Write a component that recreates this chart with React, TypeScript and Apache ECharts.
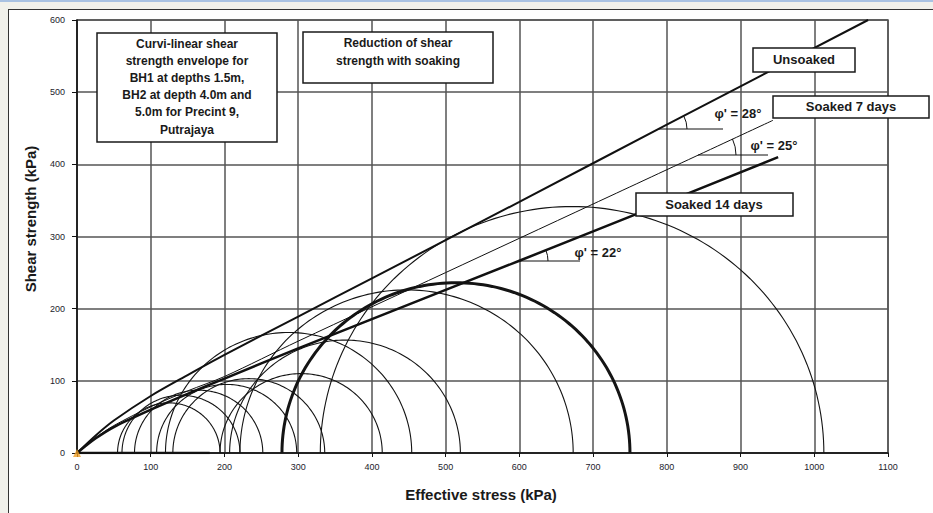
import React, { useEffect, useRef } from "react";
import * as echarts from "echarts";

// Mohr circles: [sigma3, sigma1] (kPa)
const thinCircles: number[][] = [
  [55, 194],
  [61, 221],
  [78, 252],
  [108, 298],
  [130, 336],
  [194, 414],
  [207, 520],
  [221, 673],
  [120, 454],
  [330, 1013],
];
const thickCircles: number[][] = [[278, 750]];

// Envelopes [effective stress, shear strength]
const unsoaked: number[][] = [
  [0, 0], [25, 24], [50, 45], [100, 79], [150, 108], [200, 136], [300, 189],
  [400, 242], [600, 348], [800, 455], [1073, 600],
];
const soaked7: number[][] = [
  [0, 0], [25, 21], [50, 38], [100, 64], [150, 86], [200, 106], [300, 155],
  [500, 250], [700, 345], [944, 461],
];
const soaked14: number[][] = [
  [0, 0], [25, 20], [50, 36], [100, 60], [150, 82], [200, 103], [300, 145],
  [500, 226], [700, 307], [951, 410],
];
const baseSegment: number[][] = [[0, 0], [180, 0]];

const xMin = 0, xMax = 1100, xStep = 100;
const yMin = 0, yMax = 600, yStep = 100;

const boxFont = 'bold 12px "Liberation Sans", Arial, sans-serif';
const tagFont = 'bold 13px "Liberation Sans", Arial, sans-serif';

function circleSeries(data: number[][], width: number) {
  return {
    type: "custom",
    coordinateSystem: "cartesian2d",
    silent: true,
    z: 3,
    data,
    renderItem: (params: any, api: any) => {
      const s3 = api.value(0);
      const s1 = api.value(1);
      const c = (s3 + s1) / 2;
      const r = (s1 - s3) / 2;
      const pts: number[][] = [];
      const N = 120;
      for (let i = 0; i <= N; i++) {
        const t = (Math.PI * i) / N;
        pts.push(api.coord([c + r * Math.cos(t), r * Math.sin(t)]));
      }
      return {
        type: "polyline",
        shape: { points: pts },
        style: { stroke: "#141414", lineWidth: width, fill: null },
      };
    },
  };
}

function lineSeries(data: number[][], width: number) {
  return {
    type: "line",
    data,
    smooth: 0.3,
    showSymbol: false,
    silent: true,
    z: 4,
    lineStyle: { color: "#111", width },
  };
}

function box(x: number, y: number, w: number, h: number) {
  return {
    type: "rect",
    z: 100,
    shape: { x, y, width: w, height: h },
    style: { fill: "#fff", stroke: "#1a1a1a", lineWidth: 1.5 },
  };
}

function label(x: number, y: number, text: string, font: string, lh?: number, va = "middle") {
  return {
    type: "text",
    z: 101,
    style: {
      x, y, text, font, fill: "#1a1a1a",
      textAlign: "center", textVerticalAlign: va,
      lineHeight: lh,
    },
  };
}

export default function App() {
  const ref = useRef<HTMLDivElement>(null);
  useEffect(() => {
    if (!ref.current) return;
    const chart = echarts.init(ref.current, null, { renderer: "svg" });
    const gridColor = "#555";
    chart.setOption({
      animation: false,
      grid: {
        left: 77, right: 45, top: 20, bottom: 60,
        show: true, borderColor: gridColor, borderWidth: 1.5,
      },
      xAxis: {
        type: "value", min: xMin, max: xMax, interval: xStep,
        axisLine: { show: true, onZero: false, lineStyle: { color: "#111", width: 1.5 } },
        axisTick: { show: true, length: 4, lineStyle: { color: "#111" } },
        axisLabel: { fontSize: 9, color: "#1c1c2c", margin: 9, fontFamily: "Liberation Sans, Arial", formatter: (v: number) => String(v) },
        splitLine: { show: true, lineStyle: { color: gridColor, width: 1.5 } },
      },
      yAxis: {
        type: "value", min: yMin, max: yMax, interval: yStep,
        axisLine: { show: true, onZero: false, lineStyle: { color: "#111", width: 1.5 } },
        axisTick: { show: true, length: 5, lineStyle: { color: "#111" } },
        axisLabel: { fontSize: 9, color: "#1c1c2c", margin: 12, fontFamily: "Liberation Sans, Arial", formatter: (v: number) => String(v) },
        splitLine: { show: true, lineStyle: { color: gridColor, width: 1.5 } },
      },
      series: [
        circleSeries(thinCircles, 1.1),
        circleSeries(thickCircles, 3),
        lineSeries(unsoaked, 2),
        lineSeries(soaked7, 1),
        lineSeries(soaked14, 2.5),
        lineSeries(baseSegment, 2.5),
        {
          type: "scatter",
          data: [[0, 0]],
          symbol: "triangle",
          symbolSize: 8,
          z: 6,
          itemStyle: { color: "#f0a028" },
        },
      ],
      graphic: [
        // angle marks
        { type: "line", z: 50, shape: { x1: 659, y1: 129, x2: 723, y2: 129 }, style: { stroke: "#111", lineWidth: 1 } },
        { type: "arc", z: 50, shape: { cx: 659, cy: 129, r: 28, startAngle: -0.489, endAngle: 0, clockwise: true }, style: { stroke: "#111", lineWidth: 1, fill: null } },
        { type: "line", z: 50, shape: { x1: 698, y1: 155, x2: 768, y2: 155 }, style: { stroke: "#111", lineWidth: 1 } },
        { type: "arc", z: 50, shape: { cx: 698, cy: 155, r: 38, startAngle: -0.436, endAngle: 0, clockwise: true }, style: { stroke: "#111", lineWidth: 1, fill: null } },
        { type: "line", z: 50, shape: { x1: 519, y1: 261, x2: 580, y2: 261 }, style: { stroke: "#111", lineWidth: 1 } },
        { type: "arc", z: 50, shape: { cx: 519, cy: 261, r: 29, startAngle: -0.384, endAngle: 0, clockwise: true }, style: { stroke: "#111", lineWidth: 1, fill: null } },
        label(738, 113, "φ' = 28°", tagFont),
        label(774, 145, "φ' = 25°", tagFont),
        label(598, 252, "φ' = 22°", tagFont),
        // text boxes
        box(97, 33, 180, 109),
        label(187, 35, "Curvi-linear shear\nstrength envelope for\nBH1 at depths 1.5m,\nBH2 at depth 4.0m and\n5.0m for Precint 9,\nPutrajaya", boxFont, 17.2, "top"),
        box(303, 32, 190, 51),
        label(398, 34, "Reduction of shear\nstrength with soaking", boxFont, 18, "top"),
        box(753, 48, 102, 24),
        label(804, 59, "Unsoaked", tagFont),
        box(773, 96, 156, 22),
        label(851, 106, "Soaked 7 days", tagFont),
        box(636, 193, 157, 23),
        label(714, 204, "Soaked 14 days", tagFont),
        // axis names
        label(481, 494, "Effective stress (kPa)", 'bold 15px "Liberation Sans", Arial, sans-serif'),
        {
          type: "text", z: 101, x: 30, y: 219, rotation: Math.PI / 2,
          style: {
            x: 0, y: 0, text: "Shear strength (kPa)",
            font: 'bold 15px "Liberation Sans", Arial, sans-serif', fill: "#1a1a1a",
            textAlign: "center", textVerticalAlign: "middle",
          },
        },
      ],
    });
    return () => chart.dispose();
  }, []);

  return (
    <div style={{ position: "fixed", left: 0, top: 0, width: 933, height: 513, background: "#f1f1eb", overflow: "hidden" }}>
      <div style={{ position: "absolute", left: 0, top: 0, width: 933, height: 2, background: "#a9c2e2" }} />
      <div style={{ position: "absolute", left: 8, top: 9, right: 0, bottom: 0, background: "#fff", borderLeft: "1px solid #333", borderTop: "1px solid #333" }} />
      <div ref={ref} style={{ position: "absolute", left: 0, top: 0, width: 933, height: 513 }} />
    </div>
  );
}
